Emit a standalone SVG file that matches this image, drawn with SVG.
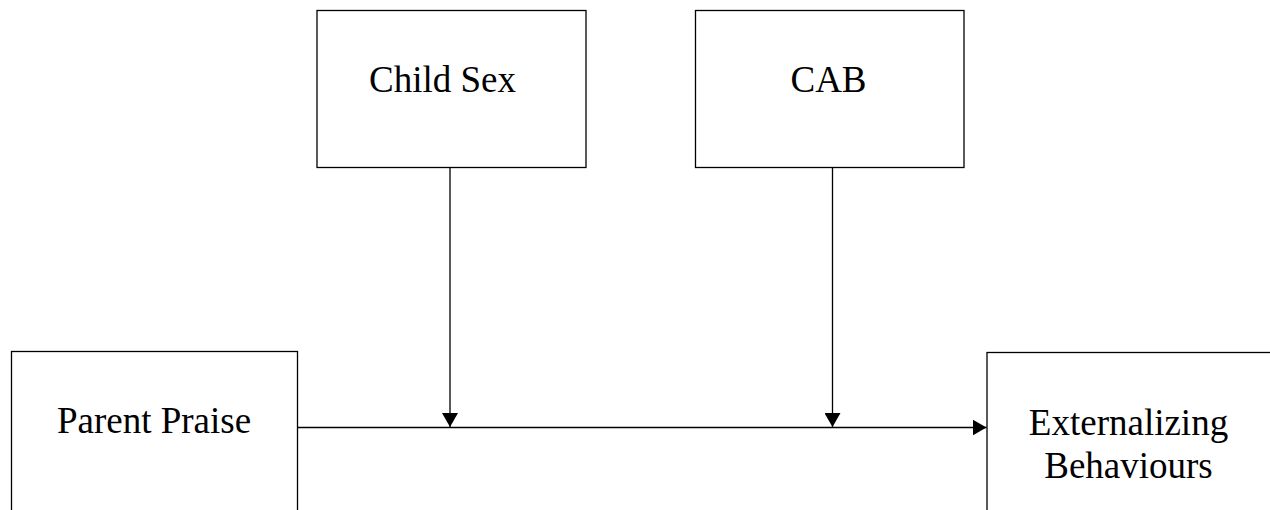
<svg xmlns="http://www.w3.org/2000/svg" width="1270" height="510" viewBox="0 0 1270 510">
<defs>
<style>
.box{fill:#fff;stroke:#000;stroke-width:1.3}
.lbl{font-family:"Liberation Serif","Times New Roman",serif;font-size:37px;fill:#000;text-anchor:middle}
.con{stroke:#000;stroke-width:1.3;fill:none}
</style>
<marker id="ah" viewBox="0 0 14 16" refX="14" refY="8" markerWidth="14" markerHeight="16" markerUnits="userSpaceOnUse" orient="auto">
<path d="M0,0 L14,8 L0,16 Z" fill="#000"/>
</marker>
</defs>
<rect width="1270" height="510" fill="#fff"/>
<g id="child-sex"><rect class="box" x="317" y="10.5" width="269" height="157"/><text class="lbl" x="442.5" y="92">Child Sex</text></g>
<g id="cab"><rect class="box" x="695.5" y="10.5" width="268.5" height="157"/><text class="lbl" x="828.5" y="92">CAB</text></g>
<g id="parent-praise"><rect class="box" x="11.5" y="351.5" width="286" height="170"/><text class="lbl" x="154" y="433">Parent Praise</text></g>
<g id="externalizing"><rect class="box" x="987" y="352.5" width="300" height="170"/><text class="lbl" x="1128.5" y="435">Externalizing</text><text class="lbl" x="1128.5" y="478">Behaviours</text></g>
<g id="connectors">
<line class="con" x1="297.5" y1="427.5" x2="986.5" y2="427.5" marker-end="url(#ah)"/>
<line class="con" x1="450" y1="167.5" x2="450" y2="427" marker-end="url(#ah)"/>
<line class="con" x1="832.5" y1="167.5" x2="832.5" y2="427" marker-end="url(#ah)"/>
</g>
</svg>
